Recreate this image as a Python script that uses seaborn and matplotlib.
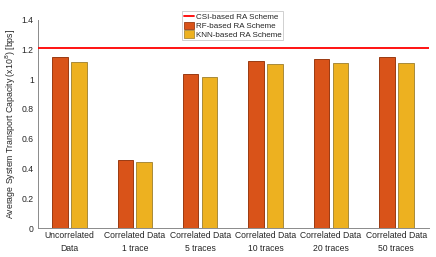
import matplotlib
matplotlib.use("Agg")
import matplotlib.pyplot as plt
import seaborn as sns
import pandas as pd
from matplotlib.lines import Line2D
from matplotlib.patches import Patch

categories = ["Uncorrelated\nData", "Correlated Data\n1 trace", "Correlated Data\n5 traces",
              "Correlated Data\n10 traces", "Correlated Data\n20 traces", "Correlated Data\n50 traces"]
rf_values = [1.150, 0.455, 1.036, 1.121, 1.135, 1.146]
knn_values = [1.115, 0.441, 1.014, 1.101, 1.108, 1.108]
csi_value = 1.211
series_names = ["RF-based RA Scheme", "KNN-based RA Scheme"]
csi_name = "CSI-based RA Scheme"
yticks = [0, 0.2, 0.4, 0.6, 0.8, 1.0, 1.2, 1.4]
ytick_labels = ["0", "0.2", "0.4", "0.6", "0.8", "1", "1.2", "1.4"]

rf_color = "#D95319"
knn_color = "#EDB120"

sns.set_theme(style="white")
plt.rcParams["font.family"] = ["Liberation Sans", "DejaVu Sans"]

df = pd.DataFrame({
    "cat": categories * 2,
    "val": rf_values + knn_values,
    "series": [series_names[0]] * len(categories) + [series_names[1]] * len(categories),
})

fig = plt.figure(figsize=(4.36, 2.57), dpi=100)
ax = fig.add_axes([0.0872, 0.1128, 0.8968, 0.8112])

sns.barplot(data=df, x="cat", y="val", hue="series", order=categories, hue_order=series_names,
            palette=[rf_color, knn_color], width=0.58, gap=0.18, ax=ax, legend=False,
            linewidth=0.7, saturation=1)
edge_cols = {rf_color.lower(): "#9a3a12", knn_color.lower(): "#a88a3a"}
for p in ax.patches:
    fc = matplotlib.colors.to_hex(p.get_facecolor()).lower()
    p.set_edgecolor(edge_cols.get(fc, "gray"))

ax.axhline(csi_value, color="#ff0000", lw=1.3, zorder=5)

ax.set_xlim(-0.48, 5.5)
ax.set_ylim(0, 1.4)
ax.set_yticks(yticks)
ax.set_yticklabels(ytick_labels)
ax.set_xlabel("")
ax.set_ylabel("Average System Transport Capacity (x10$^8$) [bps]", fontsize=6.3, color="#262626", labelpad=3)

for s in ["top", "right"]:
    ax.spines[s].set_visible(False)
for s in ["left", "bottom"]:
    ax.spines[s].set_color("#8a8a8a")
    ax.spines[s].set_linewidth(0.7)
ax.tick_params(axis="both", direction="in", length=2.5, width=0.6, color="#8a8a8a",
               labelsize=6.2, labelcolor="#262626", pad=2.5)
ax.tick_params(axis="y", pad=3)
for lbl in ax.get_xticklabels():
    lbl.set_linespacing(1.55)

handles = [Line2D([0], [0], color="#ff0000", lw=1.3),
           Patch(facecolor=rf_color, edgecolor="#9a3a12", lw=0.6),
           Patch(facecolor=knn_color, edgecolor="#a88a3a", lw=0.6)]
leg = ax.legend(handles, [csi_name] + series_names, loc="upper left", bbox_to_anchor=(0.368, 1.04),
                fontsize=5.8, frameon=True, fancybox=False, edgecolor="#bbbbbb",
                handlelength=1.3, handleheight=1.0, handletextpad=0.2, borderpad=0.2,
                labelspacing=0.05, borderaxespad=0.0)
leg.get_frame().set_linewidth(0.6)

fig.savefig("out.png", dpi=100)
